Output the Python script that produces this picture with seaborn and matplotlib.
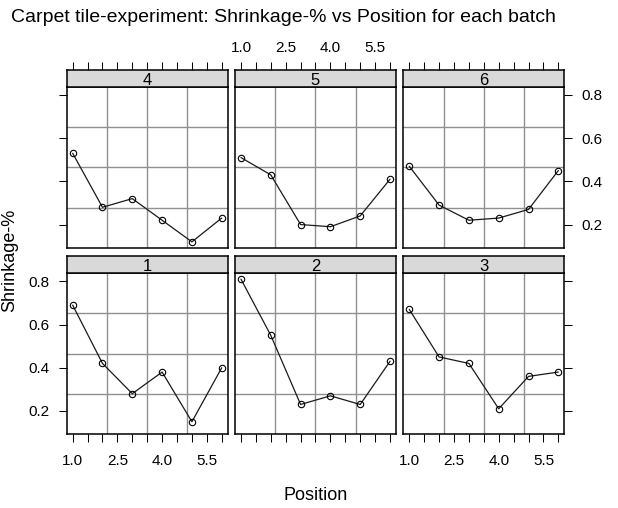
import numpy as np
import pandas as pd
import matplotlib
matplotlib.use("Agg")
import matplotlib.pyplot as plt
import seaborn as sns

sns.set_theme(style="white")
plt.rcParams["font.family"] = ["Liberation Sans", "DejaVu Sans"]
plt.rcParams["text.color"] = "black"
plt.rcParams["xtick.color"] = "black"
plt.rcParams["ytick.color"] = "black"
plt.rcParams["axes.labelcolor"] = "black"

# ---- data ----
positions = [1, 2, 3, 4, 5, 6]
batch_order = [4, 5, 6, 1, 2, 3]
shrink_b1 = [0.69, 0.42, 0.28, 0.38, 0.15, 0.40]
shrink_b2 = [0.81, 0.55, 0.23, 0.27, 0.23, 0.43]
shrink_b3 = [0.67, 0.45, 0.42, 0.21, 0.36, 0.38]
shrink_b4 = [0.53, 0.28, 0.32, 0.22, 0.12, 0.23]
shrink_b5 = [0.51, 0.43, 0.20, 0.19, 0.24, 0.41]
shrink_b6 = [0.47, 0.29, 0.22, 0.23, 0.27, 0.45]
x_ticks = [1.0, 1.5, 2.0, 2.5, 3.0, 3.5, 4.0, 4.5, 5.0, 5.5, 6.0]
x_ticklabels = ["1.0", "", "", "2.5", "", "", "4.0", "", "", "5.5", ""]
y_ticks = [0.2, 0.4, 0.6, 0.8]
y_ticklabels = ["0.2", "0.4", "0.6", "0.8"]

series = {1: shrink_b1, 2: shrink_b2, 3: shrink_b3,
          4: shrink_b4, 5: shrink_b5, 6: shrink_b6}
rows = []
for b, vals in series.items():
    for p, v in zip(positions, vals):
        rows.append({"batch": b, "Position": p, "Shrinkage": v})
df = pd.DataFrame(rows)

# ---- limits (lattice-style 4% extension) ----
allv = df["Shrinkage"]
yr = allv.max() - allv.min()
ylim = (allv.min() - 0.04 * yr, allv.max() + 0.04 * yr)
xr = max(positions) - min(positions)
xlim = (min(positions) - 0.04 * xr, max(positions) + 0.04 * xr)

W, H = 618, 508
fig = plt.figure(figsize=(W / 100, H / 100), dpi=100)

col_x = [66.7, 235.0, 403.3]
pw = 161.0
row_top = [86.8, 273.2]
ph = 161.0
sh = 17.0

GRID = "#909090"
STRIP = "#d9d9d9"
TICK_LEN = 5.6
FS_TICK = 11

def fx(x): return x / W
def fy(y): return 1 - y / H

for i, b in enumerate(batch_order):
    r, c = divmod(i, 3)
    x0 = col_x[c]
    top = row_top[r]
    ax = fig.add_axes([fx(x0), fy(top + ph), pw / W, ph / H])
    sub = df[df["batch"] == b]
    # grid at panel quarters
    for k in (1, 2, 3):
        ax.axvline(xlim[0] + k * (xlim[1] - xlim[0]) / 4, color=GRID, lw=1.0, zorder=0)
        ax.axhline(ylim[0] + k * (ylim[1] - ylim[0]) / 4, color=GRID, lw=1.0, zorder=0)
    sns.lineplot(data=sub, x="Position", y="Shrinkage", ax=ax, color="#1a1a1a",
                 linewidth=0.9, marker="o", markersize=4.6, markerfacecolor="none",
                 markeredgecolor="black", markeredgewidth=0.8, errorbar=None, zorder=3)
    ax.set_xlim(xlim)
    ax.set_ylim(ylim)
    ax.set_xlabel("")
    ax.set_ylabel("")
    for s in ax.spines.values():
        s.set_color("black")
        s.set_linewidth(1.1)
        s.set_visible(True)
    ax.set_facecolor("white")

    ax.set_xticks(x_ticks)
    ax.set_yticks(y_ticks)
    ax.tick_params(axis="both", direction="out", length=TICK_LEN, width=0.75,
                   color="black", labelsize=FS_TICK, labelcolor="black",
                   left=False, right=False, top=False, bottom=False,
                   labelleft=False, labelright=False, labeltop=False, labelbottom=False)
    if r == 1:
        ax.set_xticklabels(x_ticklabels)
        ax.tick_params(axis="x", bottom=True, labelbottom=(c != 1), pad=9)
    if c == 0:
        ax.set_yticklabels(y_ticklabels)
        ax.tick_params(axis="y", left=True, labelleft=(r == 1), pad=6.5)
    if c == 2:
        ax.set_yticklabels(y_ticklabels)
        ax.tick_params(axis="y", right=True, labelright=(r == 0), pad=6.5)

    # strip
    sax = fig.add_axes([fx(x0), fy(top), pw / W, sh / H])
    sax.set_facecolor(STRIP)
    sax.set_xlim(xlim)
    sax.set_ylim(0, 1)
    for s in sax.spines.values():
        s.set_color("black")
        s.set_linewidth(1.1)
    sax.set_yticks([])
    sax.set_xticks(x_ticks)
    sax.tick_params(axis="x", direction="out", length=TICK_LEN, width=0.75, color="black",
                    bottom=False, labelbottom=False, top=(r == 0),
                    labeltop=(r == 0 and c == 1), labelsize=FS_TICK, pad=5,
                    labelcolor="black")
    if r == 0:
        sax.set_xticklabels(x_ticklabels)
    sax.text(0.5, 0.38, str(b), transform=sax.transAxes, ha="center", va="center",
             fontsize=12, color="black")

fig.text(fx(283), fy(18), "Carpet tile-experiment: Shrinkage-% vs Position for each batch",
         ha="center", va="center", fontsize=14, color="black")
fig.text(fx(316), fy(495), "Position", ha="center", va="center", fontsize=13, color="black")
fig.text(fx(10), fy(260), "Shrinkage-%", ha="center", va="center", rotation=90,
         fontsize=13, color="black")

fig.savefig("out.png", dpi=100)
